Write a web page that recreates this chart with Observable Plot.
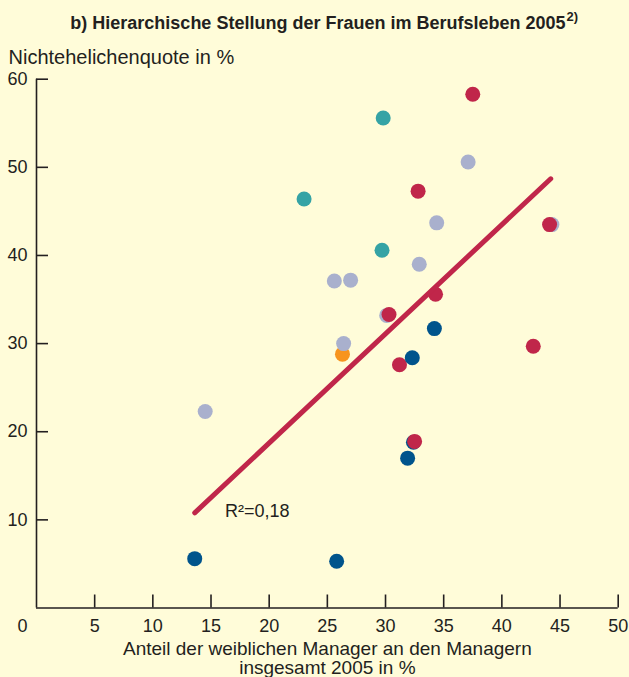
<!DOCTYPE html>
<html><head><meta charset="utf-8">
<script src="https://cdn.jsdelivr.net/npm/d3@7"></script>
<script src="https://cdn.jsdelivr.net/npm/@observablehq/plot@0.6"></script>
<style>
html,body{margin:0;padding:0;background:#fffcd9;}
#chart{width:629px;height:677px;overflow:hidden;}
</style></head><body><div id="chart"></div>
<script>
// Data (drawing order = z-order)
const groups = [
  "orange",
  "blau",
  "lila","lila","lila","lila","lila","lila","lila","lila","lila",
  "tuerkis","tuerkis","tuerkis",
  "rot","rot","rot","rot","rot","rot","rot","rot",
  "blau","blau","blau","blau","blau"
];
const xValues = [
  26.3,
  32.4,
  37.1, 34.4, 44.3, 32.9, 25.6, 27.0, 30.1, 26.4, 14.5,
  29.8, 23.0, 29.7,
  37.5, 32.8, 44.1, 34.3, 30.3, 42.7, 31.2, 32.5,
  34.2, 32.3, 31.9, 13.6, 25.8
];
const yValues = [
  28.8,
  18.8,
  50.6, 43.7, 43.5, 39.0, 37.1, 37.2, 33.2, 30.0, 22.3,
  55.6, 46.4, 40.6,
  58.3, 47.3, 43.5, 35.6, 33.3, 29.7, 27.6, 18.9,
  31.7, 28.4, 17.0, 5.6, 5.3
];
const groupDomain = ["rot", "tuerkis", "lila", "blau", "orange"];
const groupColors = ["#c0264a", "#35a3a5", "#a9b0cd", "#00548c", "#f7941e"];

const trendX = [13.6, 44.2];
const trendY = [10.8, 48.7];
const r2Label = "R²=0,18";
const r2Pos = [16.2, 11.0];

const xTicks = [5, 10, 15, 20, 25, 30, 35, 40, 45, 50];
const yTicks = [10, 20, 30, 40, 50, 60];

const titleText = "b) Hierarchische Stellung der Frauen im Berufsleben 2005";
const titleSup = "2)";
const yTitle = "Nichtehelichenquote in %";
const xTitle1 = "Anteil der weiblichen Manager an den Managern";
const xTitle2 = "insgesamt 2005 in %";

const points = xValues.map((x, i) => ({x, y: yValues[i], g: groups[i]}));
const trend = trendX.map((x, i) => ({x, y: trendY[i]}));

const W = 629, H = 677, mL = 36, mR = 11.3, mT = 78.7, mB = 69.5;
const ink = "#231f20";

const plot = Plot.plot({
  width: W, height: H,
  marginLeft: mL, marginRight: mR, marginTop: mT, marginBottom: mB,
  style: {background: "#fffcd9", fontFamily: "'Liberation Sans', Arial, Helvetica, sans-serif", fontSize: "18px", color: ink, overflow: "visible"},
  x: {domain: [0, 50], label: null},
  y: {domain: [0, 60], label: null},
  color: {domain: groupDomain, range: groupColors},
  marks: [
    Plot.ruleX([0], {stroke: ink, strokeWidth: 1.6}),
    Plot.ruleY([0], {stroke: ink, strokeWidth: 1.6}),
    Plot.tickY(yTicks, {y: d => d, stroke: ink, strokeWidth: 1.6, insetRight: (W - mL - mR) - 12}),
    Plot.tickX(xTicks, {x: d => d, stroke: ink, strokeWidth: 1.6, insetTop: (H - mT - mB) - 13}),
    Plot.axisY(yTicks, {tickSize: 0, tickPadding: 9, label: null, fontSize: 18}),
    Plot.axisX(xTicks, {tickSize: 0, tickPadding: 11, label: null, fontSize: 18}),
    Plot.axisX([0], {tickSize: 0, tickPadding: 11, label: null, fontSize: 18, dx: -14}),
    Plot.dot(points, {x: "x", y: "y", fill: "g", r: 7.5}),
    Plot.line(trend, {x: "x", y: "y", stroke: "#c0264a", strokeWidth: 5}),
    Plot.text([r2Label], {x: r2Pos[0], y: r2Pos[1], text: d => d, textAnchor: "start", fontSize: 18, fill: ink}),
    Plot.text([yTitle], {frameAnchor: "top-left", lineAnchor: "middle", text: d => d, textAnchor: "start", dx: -28, dy: 57 - mT, fontSize: 20, fill: ink}),
    Plot.text([titleText], {frameAnchor: "top-left", lineAnchor: "middle", text: d => d, textAnchor: "end", dx: 565 - mL, dy: 23 - mT, fontSize: 18, fontWeight: "bold", fill: ink}),
    Plot.text([titleSup], {frameAnchor: "top-left", lineAnchor: "middle", text: d => d, textAnchor: "start", dx: 566 - mL, dy: 16 - mT, fontSize: 13, fontWeight: "bold", fill: ink}),
    Plot.text([xTitle1], {frameAnchor: "bottom", lineAnchor: "middle", text: d => d, dy: 648 - (H - mB), fontSize: 19, fill: ink}),
    Plot.text([xTitle2], {frameAnchor: "bottom", lineAnchor: "middle", text: d => d, dy: 667 - (H - mB), fontSize: 19, fill: ink})
  ]
});
document.getElementById("chart").appendChild(plot);
</script>
</body></html>
